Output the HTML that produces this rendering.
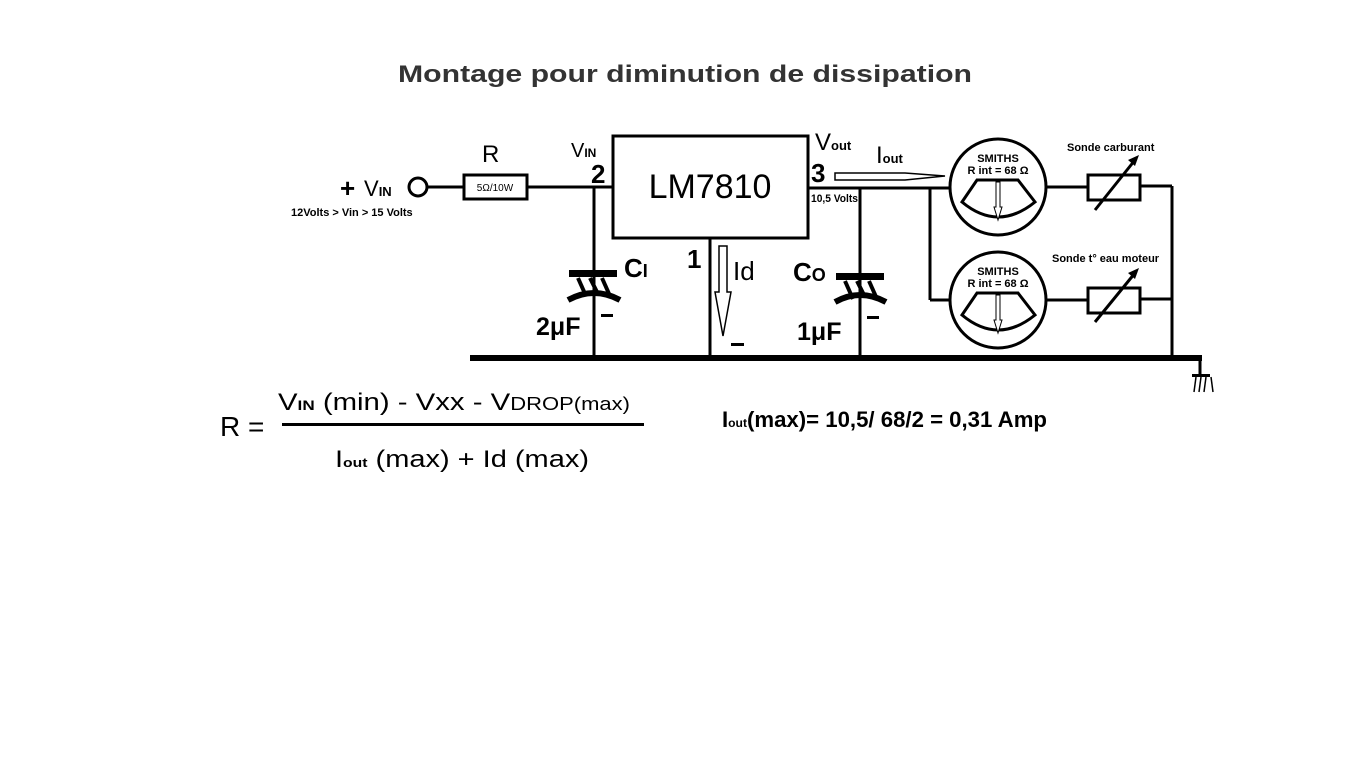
<!DOCTYPE html>
<html><head><meta charset="utf-8"><style>html,body{margin:0;padding:0;background:#fff}svg{display:block}</style></head>
<body>
<svg width="1366" height="768" viewBox="0 0 1366 768" xmlns="http://www.w3.org/2000/svg" font-family="Liberation Sans, sans-serif">
<rect width="1366" height="768" fill="#fff"/>
<text x="685" y="82" text-anchor="middle" font-size="24" font-weight="bold" fill="#333" textLength="574" lengthAdjust="spacingAndGlyphs">Montage pour diminution de dissipation</text>

<g stroke="#000" fill="none" stroke-width="3">
<!-- input -->
<circle cx="418" cy="187" r="9"/>
<line x1="427" y1="187" x2="463" y2="187"/>
<rect x="464" y="175" width="63" height="24"/>
<line x1="527" y1="187" x2="613" y2="187"/>
<!-- IC -->
<rect x="613" y="136" width="195" height="102"/>
<line x1="594" y1="187" x2="594" y2="358"/>
<line x1="710" y1="238" x2="710" y2="358"/>
<line x1="808" y1="188" x2="930" y2="188"/>
<line x1="860" y1="188" x2="860" y2="358"/>
<line x1="930" y1="188" x2="930" y2="300"/>
<line x1="930" y1="188" x2="950" y2="188"/>
<line x1="930" y1="300" x2="950" y2="300"/>
<!-- meters -->
<circle cx="998" cy="187" r="48"/>
<circle cx="998" cy="300" r="48"/>
<line x1="1046" y1="187" x2="1088" y2="187"/>
<line x1="1046" y1="300" x2="1088" y2="300"/>
<rect x="1088" y="175" width="52" height="25"/>
<rect x="1088" y="288" width="52" height="25"/>
<line x1="1140" y1="186" x2="1172" y2="186"/>
<line x1="1140" y1="299" x2="1172" y2="299"/>
<line x1="1172" y1="186" x2="1172" y2="358"/>
<line x1="1095" y1="210" x2="1135" y2="160"/>
<line x1="1095" y1="322" x2="1135" y2="273"/>
<!-- meter faces -->
<path d="M977 180 L1018 180 L1035 202 Q998 232 962 202 Z"/>
<path d="M977 293 L1018 293 L1035 315 Q998 345 962 315 Z"/>
<line x1="1200" y1="358" x2="1200" y2="376"/>
</g>
<!-- arrowheads on variable resistors -->
<polygon points="1139,155 1128,160 1135,166" fill="#000"/>
<polygon points="1139,268 1128,273 1135,279" fill="#000"/>
<!-- needles -->
<g stroke="#000" stroke-width="1" fill="#fff">
<path d="M996 182 L996 207 L994 207 L998 220 L1002 207 L1000 207 L1000 182 Z"/>
<path d="M996 295 L996 320 L994 320 L998 333 L1002 320 L1000 320 L1000 295 Z"/>
</g>
<!-- ground bar -->
<rect x="470" y="355" width="732" height="6" fill="#000"/>
<rect x="1192" y="374" width="18" height="3" fill="#000"/>
<g stroke="#000" stroke-width="1.5"><line x1="1196" y1="377" x2="1194" y2="392"/><line x1="1201" y1="377" x2="1199" y2="392"/><line x1="1206" y1="377" x2="1204" y2="392"/><line x1="1211" y1="377" x2="1213" y2="392"/></g>

<!-- capacitors -->
<g>
<rect x="569" y="270" width="48" height="7" fill="#000"/>
<path d="M568 300 Q594 286 620 300" stroke="#000" stroke-width="6" fill="none"/>
<g stroke="#000" stroke-width="4"><line x1="578" y1="278" x2="586" y2="296"/><line x1="590" y1="278" x2="598" y2="294"/><line x1="602" y1="278" x2="610" y2="296"/></g>
<rect x="836" y="273" width="48" height="7" fill="#000"/>
<path d="M835 302 Q860 288 886 302" stroke="#000" stroke-width="6" fill="none"/>
<g stroke="#000" stroke-width="4"><line x1="845" y1="281" x2="853" y2="299"/><line x1="857" y1="281" x2="865" y2="297"/><line x1="869" y1="281" x2="877" y2="299"/></g>
</g>

<!-- current arrows -->
<path d="M835 173 L905 173 L945 176 L905 180 L835 180 Z" fill="#fff" stroke="#000" stroke-width="1.5"/>
<path d="M719 246 L727 246 L727 292 L731 292 L723 336 L715 292 L719 292 Z" fill="#fff" stroke="#000" stroke-width="1.5"/>

<!-- labels -->
<g fill="#000">
<text x="340" y="197" font-size="26" font-weight="bold">+</text>
<text x="364" y="196" font-size="22">V<tspan font-size="13" font-weight="bold">IN</tspan></text>
<text x="291" y="216" font-size="11" font-weight="bold">12Volts &gt; Vin &gt; 15 Volts</text>
<text x="482" y="162" font-size="24">R</text>
<text x="495" y="191" font-size="10" text-anchor="middle">5Ω/10W</text>
<text x="571" y="157" font-size="20">V<tspan font-size="12" font-weight="bold">IN</tspan></text>
<text x="591" y="183" font-size="26" font-weight="bold">2</text>
<text x="710" y="198" font-size="34" text-anchor="middle">LM7810</text>
<text x="811" y="182" font-size="26" font-weight="bold">3</text>
<text x="815" y="150" font-size="24">V<tspan font-size="13" font-weight="bold">out</tspan></text>
<text x="811" y="202" font-size="11" font-weight="bold" textLength="47" lengthAdjust="spacingAndGlyphs">10,5 Volts</text>
<text x="876" y="163" font-size="24">I<tspan font-size="13" font-weight="bold">out</tspan></text>
<text x="687" y="268" font-size="26" font-weight="bold">1</text>
<text x="733" y="280" font-size="26">Id</text>
<text x="624" y="277" font-size="26" font-weight="bold">C<tspan font-size="18">I</tspan></text>
<text x="793" y="281" font-size="26" font-weight="bold">C<tspan font-size="18">O</tspan></text>
<text x="536" y="335" font-size="25" font-weight="bold">2μF</text>
<text x="797" y="340" font-size="25" font-weight="bold">1μF</text>
<rect x="601" y="314" width="12" height="3"/>
<rect x="867" y="316" width="12" height="3"/>
<rect x="731" y="343" width="13" height="3"/>
<text x="998" y="162" font-size="11" font-weight="bold" text-anchor="middle">SMITHS</text>
<text x="998" y="174" font-size="11" font-weight="bold" text-anchor="middle">R int = 68 Ω</text>
<text x="998" y="275" font-size="11" font-weight="bold" text-anchor="middle">SMITHS</text>
<text x="998" y="287" font-size="11" font-weight="bold" text-anchor="middle">R int = 68 Ω</text>
<text x="1067" y="151" font-size="11" font-weight="bold">Sonde  carburant</text>
<text x="1052" y="262" font-size="11" font-weight="bold">Sonde t° eau moteur</text>
<!-- formula -->
<text x="220" y="436" font-size="28">R =</text>
<rect x="282" y="423" width="362" height="3"/>
<text x="278" y="410" font-size="24" textLength="352" lengthAdjust="spacingAndGlyphs">V<tspan font-size="14" font-weight="bold">IN</tspan> (min) - Vxx - V<tspan font-size="18">DROP(max)</tspan></text>
<text x="335" y="467" font-size="24" textLength="254" lengthAdjust="spacingAndGlyphs">I<tspan font-size="13" font-weight="bold">out</tspan> (max) + Id (max)</text>
<text x="722" y="427" font-size="22" font-weight="bold" textLength="325" lengthAdjust="spacingAndGlyphs">I<tspan font-size="12">out</tspan>(max)=  10,5/ 68/2 = 0,31 Amp</text>
</g>
</svg>
</body></html>
